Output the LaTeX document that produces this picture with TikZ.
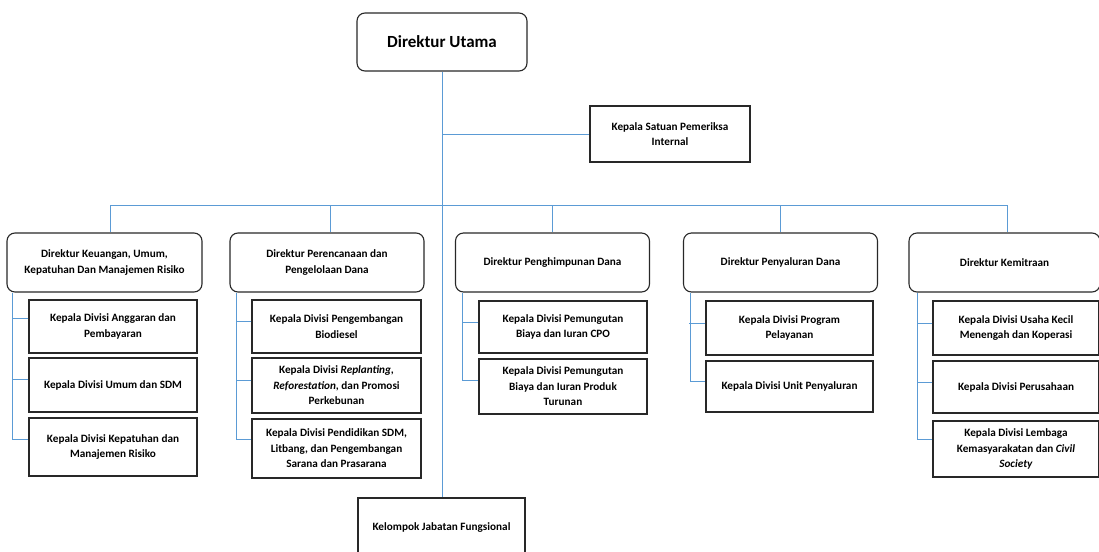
\documentclass[tikz,border=0pt]{standalone}
\usepackage{fontspec}
\setmainfont{Carlito}
\definecolor{linkblue}{RGB}{91,155,213}
\definecolor{boxline}{RGB}{40,40,40}

\begin{document}
\begin{tikzpicture}[x=1pt, y=-1pt,
		every node/.style={font=\bfseries\fontsize{11.2}{15.5}\selectfont, align=center, inner sep=0pt},
		dirbox/.style={draw=boxline, line width=1.1pt, rounded corners=8pt, minimum width=194pt, minimum height=59pt},
		divbox/.style={draw=boxline, line width=1.1pt, minimum width=168pt},
		link/.style={draw=linkblue, line width=0.9pt}]
		\useasboundingbox (0,0) rectangle (1099,551);
		\clip (0,0) rectangle (1099,551);
		\node[dirbox, minimum width=170pt, minimum height=58pt, font=\bfseries\fontsize{17}{19}\selectfont] (dirut) at (442,42) {Direktur Utama};
		\node[divbox, minimum width=160pt, minimum height=56pt] (spi) at (670,134) {Kepala Satuan Pemeriksa\\Internal};
		\node[dirbox, minimum width=195pt] (d1) at (104.5,262.5) {Direktur Keuangan, Umum,\\Kepatuhan Dan Manajemen Risiko};
		\node[dirbox] (d2) at (327,262.5) {Direktur Perencanaan dan\\Pengelolaan Dana};
		\node[dirbox] (d3) at (552.5,262.5) {Direktur Penghimpunan Dana};
		\node[dirbox] (d4) at (780.5,262.5) {Direktur Penyaluran Dana};
		\node[dirbox, minimum width=191pt] (d5) at (1004.5,262.5) {Direktur Kemitraan};
		\node[divbox, minimum height=53pt] (a1) at (113,326.5) {Kepala Divisi Anggaran dan\\Pembayaran};
		\node[divbox, minimum height=54pt] (a2) at (113,385) {Kepala Divisi Umum dan SDM};
		\node[divbox, minimum height=58pt] (a3) at (113,447) {Kepala Divisi Kepatuhan dan\\Manajemen Risiko};
		\node[divbox, minimum width=169pt, minimum height=53pt] (b1) at (336.5,326.5) {Kepala Divisi Pengembangan\\Biodiesel};
		\node[divbox, minimum width=169pt, minimum height=55pt] (b2) at (336.5,385.5) {Kepala Divisi \textit{Replanting,}\\\textit{Reforestation,} dan Promosi\\Perkebunan};
		\node[divbox, minimum width=169pt, minimum height=59pt] (b3) at (336.5,448.5) {Kepala Divisi Pendidikan SDM,\\Litbang, dan Pengembangan\\Sarana dan Prasarana};
		\node[divbox, minimum height=52pt] (c1) at (563,327) {Kepala Divisi Pemungutan\\Biaya dan Iuran CPO};
		\node[divbox, minimum height=55pt] (c2) at (563,386.5) {Kepala Divisi Pemungutan\\Biaya dan Iuran Produk\\Turunan};
		\node[divbox, minimum width=167pt, minimum height=54pt] (e1) at (789.5,328) {Kepala Divisi Program\\Pelayanan};
		\node[divbox, minimum width=167pt, minimum height=51pt] (e2) at (789.5,386.5) {Kepala Divisi Unit Penyaluran};
		\node[divbox, minimum width=166pt, minimum height=54pt] (f1) at (1016,328) {Kepala Divisi Usaha Kecil\\Menengah dan Koperasi};
		\node[divbox, minimum width=166pt, minimum height=52pt] (f2) at (1016,387) {Kepala Divisi Perusahaan};
		\node[divbox, minimum width=166pt, minimum height=56pt] (f3) at (1016,449) {Kepala Divisi Lembaga\\Kemasyarakatan dan \textit{Civil}\\\textit{Society}};
		\node[divbox, minimum width=167pt, minimum height=60pt] (kjf) at (441.5,528) {Kelompok Jabatan Fungsional};
		\coordinate (bus1) at (110,205);
		\coordinate (bus2) at (330,205);
		\coordinate (bus3) at (552,205);
		\coordinate (bus4) at (780,205);
		\coordinate (bus5) at (1007,205);
		\draw[link] (dirut.south) -- (dirut.south |- kjf.north);
		\draw[link] (dirut.south |- spi.west) -- (spi.west);
		\draw[link] (bus1) -- (bus5);
		\draw[link] (bus1) -- (bus1 |- d1.north);
		\draw[link] (bus2) -- (bus2 |- d2.north);
		\draw[link] (bus3) -- (bus3 |- d3.north);
		\draw[link] (bus4) -- (bus4 |- d4.north);
		\draw[link] (bus5) -- (bus5 |- d5.north);
		\draw[link] ([xshift=6pt]d1.south west) |- ([yshift=8pt]a3.west);
		\draw[link] ([yshift=8pt]a1.west) -- ++(-16,0);
		\draw[link] ([yshift=6pt]a2.west) -- ++(-16,0);
		\draw[link] ([xshift=7pt]d2.south west) |- ([yshift=9pt]b3.west);
		\draw[link] ([yshift=5pt]b1.west) -- ++(-15,0);
		\draw[link] ([yshift=5pt]b2.west) -- ++(-15,0);
		\draw[link] ([xshift=7pt]d3.south west) |- ([yshift=6pt]c2.west);
		\draw[link] ([yshift=5pt]c1.west) -- ++(-16,0);
		\draw[link] ([xshift=7pt]d4.south west) |- ([yshift=5pt]e2.west);
		\draw[link] ([yshift=5pt]e1.west) -- ++(-16,0);
		\draw[link] ([xshift=9pt]d5.south west) |- ([yshift=10pt]f3.west);
		\draw[link] ([yshift=5pt]f1.west) -- ++(-15,0);
		\draw[link] ([yshift=5pt]f2.west) -- ++(-15,0);
	\end{tikzpicture}
\end{document}
